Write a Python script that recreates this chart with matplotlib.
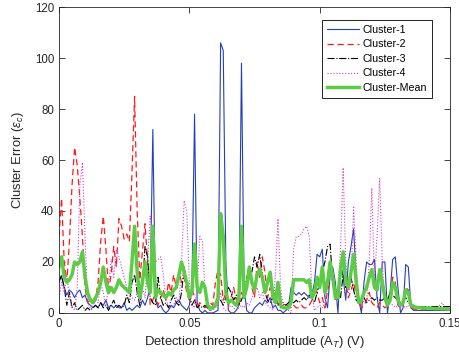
import matplotlib
matplotlib.use('Agg')
import matplotlib.pyplot as plt
import numpy as np

plt.rcParams['font.family'] = ['Liberation Sans', 'DejaVu Sans']
plt.rcParams['mathtext.fontset'] = 'custom'
plt.rcParams['mathtext.rm'] = 'Liberation Sans'
plt.rcParams['mathtext.it'] = 'Liberation Sans:italic'

# detection threshold grid (V), step 0.001 from 0 to 0.15
x_start, x_stop, x_step = 0.0, 0.15, 0.001

cluster1 = [13, 14, 10, 7, 9, 8, 6, 8, 9, 6, 7, 4, 3, 2, 3, 2, 4, 3, 5, 2,
            3, 2, 3, 2, 2, 4, 1, 2, 1, 2, 3, 2, 5, 3, 6, 10, 72, 5, 2, 3,
            1, 0, 1, 3, 2, 4, 5, 3, 2, 1, 3, 10, 78, 4, 1, 0, 1, 0, 0, 0,
            0.5, 1, 106, 103, 20, 1, 0, 0, 1, 3, 98, 10, 1, 0, 0, 2, 3, 4, 3, 5,
            4, 6, 2, 3, 1, 1, 0, 1, 2, 10, 8, 7, 8, 7, 8, 7, 6, 7, 12, 23,
            22, 25, 6, 2, 15, 18, 12, 0, 20, 14, 5, 20, 26, 33, 14, 5, 0, 12, 20, 19,
            19, 21, 6, 0, 20, 20, 0, 8, 21, 22, 10, 0, 2, 19, 18, 2, 1, 1, 1, 1,
            1, 1, 1, 1, 1, 1, 1, 1, 1, 1, 1]

cluster2 = [30, 45, 20, 12, 28, 50, 65, 58, 45, 30, 10, 4, 6, 3, 5, 12, 28, 38, 25, 9,
            15, 26, 18, 37, 34, 29, 31, 28, 55, 85, 40, 13, 24, 35, 20, 3, 5, 8, 3, 6,
            9, 5, 12, 8, 15, 10, 16, 12, 14, 8, 5, 10, 6, 2, 4, 3, 2, 3, 4, 3,
            12, 17, 15, 5, 8, 3, 6, 10, 5, 3, 8, 6, 12, 18, 10, 6, 20, 14, 22, 16,
            6, 10, 5, 8, 3, 2, 3, 4, 2, 2, 3, 2, 2, 3, 2, 2, 3, 5, 10, 8,
            4, 6, 2, 9, 12, 14, 8, 5, 15, 20, 12, 6, 9, 12, 7, 5, 2, 3, 5, 8,
            4, 3, 2, 4, 3, 2, 3, 5, 14, 12, 3, 2, 4, 10, 9, 3, 1.5, 1.5, 1.5, 1.5,
            1.5, 1.5, 1.5, 1.5, 1.5, 1.5, 1.5, 1.5, 1.5, 1.5, 1.5]

cluster3 = [12, 15, 10, 3, 8, 2, 4, 1, 2, 3, 1, 2, 1, 2, 3, 2, 4, 2, 3, 1,
            3, 5, 2, 3, 2, 3, 7, 4, 12, 15, 8, 3, 10, 26, 22, 6, 4, 3, 14, 6,
            3, 4, 2, 5, 7, 4, 3, 8, 18, 12, 6, 3, 5, 2, 3, 2, 3, 2, 1, 2,
            3, 4, 5, 3, 6, 10, 8, 5, 7, 3, 5, 8, 14, 17, 16, 22, 18, 23, 15, 8,
            5, 4, 6, 4, 3, 5, 4, 3, 4, 5, 4, 5, 4, 5, 6, 5, 7, 6, 4, 8,
            12, 16, 20, 26, 27, 12, 5, 8, 6, 15, 10, 13, 14, 9, 5, 4, 5, 6, 4, 5,
            6, 5, 6, 5, 5, 6, 5, 8, 7, 6, 5, 4, 5, 6, 4, 3, 3, 2.5, 2.5, 2.5,
            2.5, 2.5, 2.5, 2.5, 2.5, 2.5, 2.5, 2.5, 2.5, 2.5, 2.5]

cluster4 = [5, 12, 8, 15, 6, 2, 1, 10, 50, 59, 30, 4, 2, 3, 6, 4, 12, 8, 3, 10,
            21, 14, 25, 22, 18, 14, 10, 8, 6, 5, 8, 4, 10, 6, 20, 38, 30, 20, 21, 22,
            15, 5, 3, 2, 3, 6, 4, 20, 44, 40, 12, 3, 2, 10, 30, 28, 10, 2, 1, 1,
            2, 3, 8, 2, 1, 2, 3, 2, 1, 2, 3, 2, 4, 3, 6, 8, 10, 6, 8, 4,
            3, 2, 1, 15, 37, 10, 2, 1, 1, 0, 25, 30, 30, 31, 33, 34, 30, 8, 1, 2,
            3, 2, 4, 10, 20, 14, 6, 10, 25, 57, 20, 8, 12, 42, 20, 5, 3, 5, 4, 20,
            49, 12, 30, 53, 20, 5, 3, 4, 3, 2, 3, 2, 3, 2, 3, 2, 2, 2, 2, 2,
            2, 2, 2, 2, 2, 2, 3, 4, 2, 2, 2]

cluster_mean = [18, 22, 14, 12, 13, 15, 20, 19, 20, 24, 14, 8, 5, 4, 6, 8, 12, 18, 12, 8,
                10, 8, 10, 13, 11, 10, 9, 8, 20, 34, 16, 6, 12, 20, 12, 8, 34, 6, 9, 8,
                7, 6, 8, 7, 9, 10, 15, 20, 16, 12, 6, 8, 27, 10, 8, 12, 10, 3, 2, 2,
                3, 6, 39, 30, 8, 4, 5, 4, 3, 6, 34, 6, 10, 18, 12, 9, 15, 17, 14, 8,
                12, 16, 7, 4, 12, 3, 2, 2, 2, 4, 13, 13, 13, 13, 13, 12, 13, 6, 8, 14,
                10, 18, 8, 12, 20, 14, 6, 6, 17, 24, 12, 10, 16, 23, 12, 4, 5, 8, 10, 14,
                17, 10, 9, 17, 12, 6, 3, 5, 12, 10, 5, 3, 4, 9, 8, 3, 2.5, 2.2, 2.1, 2.0,
                2.0, 1.9, 1.9, 1.8, 1.8, 1.7, 1.7, 1.6, 1.6, 1.5, 1.5]

x = np.arange(len(cluster1)) * x_step + x_start

fig = plt.figure(figsize=(4.59, 3.56), dpi=100)
ax = fig.add_axes([0.1285, 0.121, 0.852, 0.859])

ax.plot(x, cluster1, color='#2340b8', lw=0.8, label='Cluster-1')
ax.plot(x, cluster2, color='#ff1a1a', lw=0.9, ls=(0, (5, 3)), label='Cluster-2')
ax.plot(x, cluster3, color='black', lw=0.8, ls='-.', label='Cluster-3')
ax.plot(x, cluster4, color='#d23fd2', lw=0.8, ls=':', label='Cluster-4')
ax.plot(x, cluster_mean, color='#5ccc46', lw=2.5, label='Cluster-Mean')

ax.set_xlim(0, 0.15)
ax.set_ylim(0, 120)
ax.set_xticks([0, 0.05, 0.1, 0.15])
ax.set_xticklabels(['0', '0.05', '0.1', '0.15'])
ax.set_yticks(range(0, 121, 20))
ax.tick_params(direction='in', top=True, right=True, labelsize=8.3,
               colors='#262626', length=4, width=0.6)
for s in ax.spines.values():
    s.set_color('#262626')
    s.set_linewidth(0.6)

ax.set_xlabel('Detection threshold amplitude (A$_T$) (V)', fontsize=9.4, color='#262626', labelpad=3)
ax.set_ylabel(r'Cluster Error ($\varepsilon_c$)', fontsize=9.4, color='#262626', labelpad=6)

leg = ax.legend(loc='upper right', fontsize=7.7, fancybox=False, framealpha=1,
                edgecolor='black', handlelength=3.0, borderpad=0.45,
                labelspacing=0.42, handletextpad=0.3, bbox_to_anchor=(0.967, 0.975))
leg.get_frame().set_linewidth(0.6)

fig.savefig('out.png', dpi=100)
